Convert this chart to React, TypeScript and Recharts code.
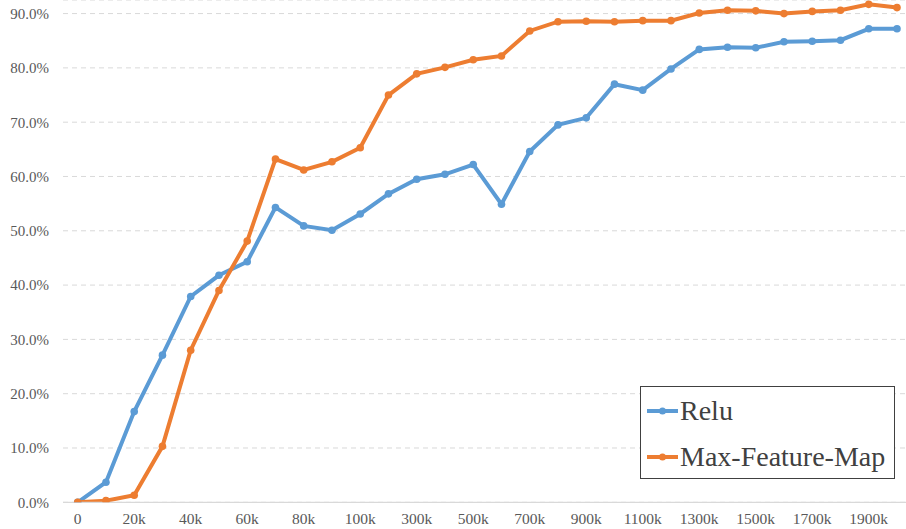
import React from 'react';
import { LineChart, Line, XAxis, YAxis, CartesianGrid } from 'recharts';

// Training iterations
const steps = [
  '0', '10k', '20k', '30k', '40k', '50k', '60k', '70k', '80k', '90k', '100k',
  '200k', '300k', '400k', '500k', '600k', '700k', '800k', '900k', '1000k',
  '1100k', '1200k', '1300k', '1400k', '1500k', '1600k', '1700k', '1800k', '1900k', '2000k',
];

// Accuracy in percent
const relu = [
  0, 3.7, 16.7, 27.1, 37.9, 41.8, 44.3, 54.3, 50.9, 50.1, 53.1,
  56.8, 59.5, 60.4, 62.2, 54.9, 64.6, 69.5, 70.8, 77.0,
  75.9, 79.8, 83.4, 83.8, 83.7, 84.8, 84.9, 85.1, 87.2, 87.2,
];
const maxFeatureMap = [
  0, 0.3, 1.3, 10.3, 28.0, 39.0, 48.1, 63.2, 61.2, 62.7, 65.3,
  75.0, 78.9, 80.1, 81.5, 82.2, 86.8, 88.5, 88.6, 88.5,
  88.7, 88.7, 90.1, 90.6, 90.5, 90.0, 90.4, 90.6, 91.7, 91.1,
];

const yTicks = [0, 10, 20, 30, 40, 50, 60, 70, 80, 90];

const BLUE = '#5B9BD5';
const ORANGE = '#ED7D31';
const FONT = '"Liberation Serif", "Times New Roman", serif';

const series = [
  { key: 'relu', name: 'Relu', color: BLUE },
  { key: 'mfm', name: 'Max-Feature-Map', color: ORANGE },
];

const data = steps.map((step, i) => ({
  step,
  relu: relu[i],
  mfm: maxFeatureMap[i],
}));

const LegendBox = () => (
  <div
    style={{
      position: 'absolute',
      left: 640,
      top: 386,
      width: 255,
      height: 93,
      boxSizing: 'border-box',
      border: '1px solid #404040',
      background: '#fff',
      fontFamily: FONT,
      fontSize: 28,
      color: '#404040',
      padding: '1px 0 0 6px',
    }}
  >
    {series.map((s) => (
      <div key={s.key} style={{ display: 'flex', alignItems: 'center', height: 46 }}>
        <svg width={32} height={10} style={{ marginRight: 1 }}>
          <line x1={0} y1={5} x2={31} y2={5} stroke={s.color} strokeWidth={4} />
          <circle cx={15.5} cy={5} r={3.5} fill={s.color} />
        </svg>
        <span style={{ lineHeight: '28px' }}>{s.name}</span>
      </div>
    ))}
  </div>
);

const App: React.FC = () => {
  return (
    <div style={{ position: 'absolute', left: 0, top: 0, width: 906, height: 529, background: '#fff' }}>
      <LineChart width={906} height={529} data={data} margin={{ top: 0, right: 0, bottom: 0, left: 0 }}>
        <CartesianGrid vertical={false} stroke="#d9d9d9" strokeDasharray="5 4" />
        <XAxis
          dataKey="step"
          interval={1}
          height={26.7}
          padding={{ left: 14.7, right: 9 }}
          axisLine={{ stroke: '#d9d9d9', strokeWidth: 1.3 }}
          tickLine={false}
          tickSize={0}
          tickMargin={11}
          tick={{ fill: '#595959', fontSize: 15.5, fontFamily: FONT }}
        />
        <YAxis
          width={63}
          domain={[0, 92.5]}
          ticks={yTicks}
          allowDataOverflow
          axisLine={false}
          tickLine={false}
          tickSize={0}
          tickMargin={14}
          tickFormatter={(v: number) => v.toFixed(1) + '%'}
          tick={{ fill: '#595959', fontSize: 15, fontFamily: FONT }}
        />
        {series.map((s) => (
          <Line
            key={s.key}
            type="linear"
            dataKey={s.key}
            name={s.name}
            stroke={s.color}
            strokeWidth={4}
            dot={{ r: 3.8, fill: s.color, stroke: s.color, strokeWidth: 0 }}
            isAnimationActive={false}
          />
        ))}
      </LineChart>
      <LegendBox />
    </div>
  );
};

export default App;
